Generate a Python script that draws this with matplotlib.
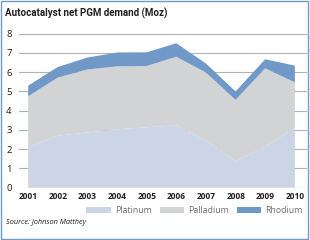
import numpy as np
import matplotlib
matplotlib.use('Agg')
import matplotlib.pyplot as plt
from matplotlib.patches import Rectangle

#==============================================================================#
# Dados (Moz)
#==============================================================================#
years = [2001, 2002, 2003, 2004, 2005, 2006, 2007, 2008, 2009, 2010]
platinum = [2.10, 2.70, 2.87, 3.03, 3.14, 3.24, 2.45, 1.37, 2.13, 3.10]
palladium = [2.65, 3.02, 3.27, 3.27, 3.18, 3.56, 3.53, 3.19, 4.07, 2.37]
rhodium = [0.55, 0.55, 0.62, 0.72, 0.71, 0.70, 0.47, 0.44, 0.47, 0.87]
series_names = ['Platinum', 'Palladium', 'Rhodium']
colors = ['#cbd5e5', '#d1d3d4', '#7099c8']
yticks = [0, 1, 2, 3, 4, 5, 6, 7, 8]

plt.rcParams['font.family'] = ['Open Sans', 'DejaVu Sans']

#==============================================================================#
# Figura
#==============================================================================#
fig = plt.figure(figsize=(3.1, 2.4), dpi=100)
ax = fig.add_axes([0.0623, 0.2154, 0.927, 0.6484])

ax.stackplot(years, platinum, palladium, rhodium, colors=colors,
             labels=series_names, zorder=1)

ax.set_xlim(2000.7, 2010.4)
ax.set_ylim(-0.03, 8.05)
ax.set_yticks(yticks)
ax.set_xticks(years)
ax.set_xticklabels([str(y) for y in years], fontsize=6, fontweight='bold',
                   color='#231f20')
ax.set_yticklabels([str(t) for t in yticks], fontsize=6.8, color='#231f20')
ax.tick_params(length=0, pad=3)
ax.tick_params(axis='y', pad=5.5)
ax.grid(axis='y', color='#b1b3b6', linewidth=0.8, zorder=0)
ax.set_axisbelow(True)
for s in ax.spines.values():
    s.set_visible(False)

#Legenda
leg = fig.legend(loc='center right', bbox_to_anchor=(0.99, 0.122), ncol=3,
                 frameon=False, fontsize=6.3, handlelength=2.8,
                 handleheight=0.58, handletextpad=0.45, columnspacing=0.9,
                 borderpad=0, labelcolor='#6d6e71')

fig.text(0.016, 0.946, 'Autocatalyst net PGM demand (Moz)', fontsize=7.0,
         fontweight='bold', color='#231f20', va='center', ha='left',
         family=['Roboto', 'DejaVu Sans'])
fig.text(0.019, 0.072, 'Source: Johnson Matthey', fontsize=5.3,
         style='italic', color='#231f20', va='center', ha='left')

#Moldura
fig.patches.append(Rectangle((0.004, 0.006), 0.988, 0.99,
                             transform=fig.transFigure, fill=False,
                             edgecolor='#7099c8', linewidth=1.0))

fig.savefig('out.png', dpi=100)
